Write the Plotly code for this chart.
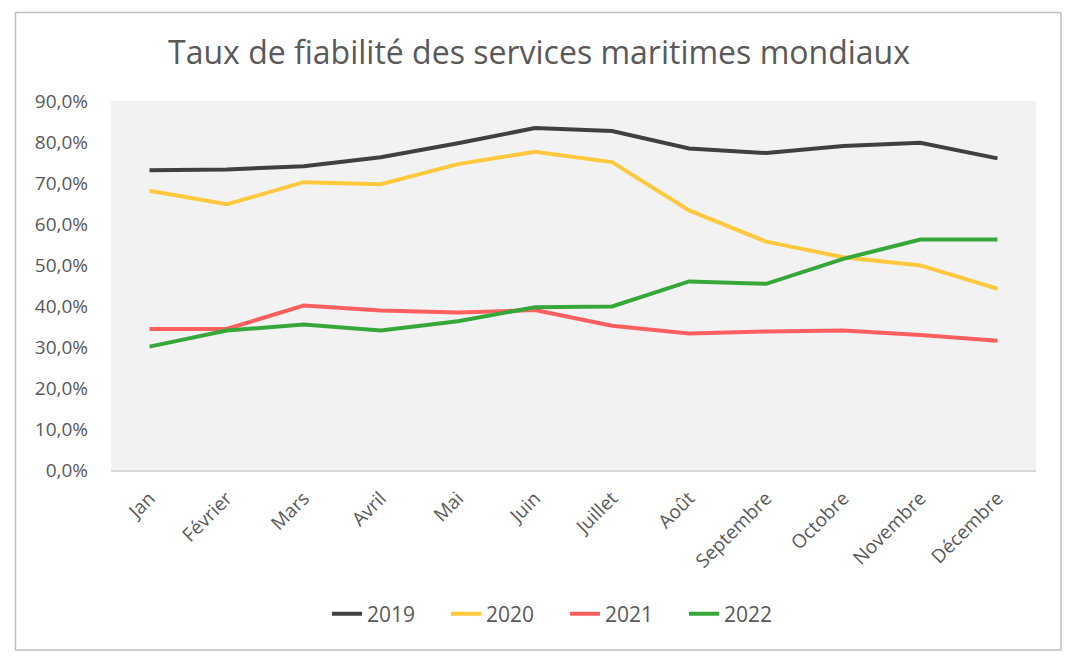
import plotly.graph_objects as go

months = ["Jan", "Février", "Mars", "Avril", "Mai", "Juin", "Juillet", "Août",
          "Septembre", "Octobre", "Novembre", "Décembre"]
v2019 = [73.1, 73.3, 74.1, 76.3, 79.7, 83.4, 82.7, 78.4, 77.3, 79.0, 79.8, 76.0]
v2020 = [68.1, 64.8, 70.2, 69.7, 74.6, 77.6, 75.1, 63.3, 55.7, 51.9, 49.9, 44.2]
v2021 = [34.4, 34.4, 40.1, 38.9, 38.4, 39.0, 35.2, 33.3, 33.8, 34.0, 32.9, 31.5]
v2022 = [30.1, 34.0, 35.5, 34.0, 36.3, 39.7, 39.9, 46.0, 45.4, 51.5, 56.2, 56.2]
series_names = ["2019", "2020", "2021", "2022"]
colors = ["#404040", "#FFC83D", "#FF5F5F", "#36A83A"]
y_ticks = [0, 10, 20, 30, 40, 50, 60, 70, 80, 90]
y_tick_labels = ["0,0%", "10,0%", "20,0%", "30,0%", "40,0%", "50,0%",
                 "60,0%", "70,0%", "80,0%", "90,0%"]
title_text = "Taux de fiabilité des services maritimes mondiaux"

fig = go.Figure()
for name, vals, col in zip(series_names, [v2019, v2020, v2021, v2022], colors):
    fig.add_trace(go.Scatter(x=months, y=vals, name=name, mode="lines",
                             line=dict(color=col, width=4)))

OFF = 8  # page body margin
W, H = 1080 - OFF, 666 - OFF
L, R, T, B = 111 - OFF, 1036 - OFF, 101 - OFF, 470 - OFF
pw, ph = R - L, B - T


def px_x(p):
    return (p - OFF - L) / pw


def px_y(p):
    return (B - (p - OFF)) / ph


fig.add_shape(type="rect", xref="paper", yref="paper",
              x0=px_x(15.5), x1=px_x(1061), y0=px_y(650), y1=px_y(12.5),
              line=dict(color="#bfbfbf", width=1.5), fillcolor="rgba(0,0,0,0)",
              layer="below")

fig.update_layout(
    width=W, height=H,
    margin=dict(l=L, r=W - R, t=T, b=H - B),
    paper_bgcolor="white",
    plot_bgcolor="#f2f2f2",
    font=dict(family="Open Sans", color="#595959", size=19),
    title=dict(text=title_text, x=(539 - OFF) / W, xanchor="center",
               y=1 - (53 - OFF) / H, yanchor="middle", yref="container",
               font=dict(size=32, color="#595959")),
    legend=dict(orientation="h", x=px_x(565), xanchor="center",
                y=px_y(614), yanchor="middle", font=dict(size=21),
                entrywidth=74, entrywidthmode="pixels",
                bgcolor="rgba(0,0,0,0)"),
    xaxis=dict(showgrid=False, showline=True, linecolor="#d9d9d9", linewidth=1.5,
               tickangle=-45, ticks="", ticklabelstandoff=8,
               range=[-0.5, 11.5], fixedrange=True),
    yaxis=dict(range=[0, 90], tickvals=y_ticks, ticktext=y_tick_labels,
               showgrid=False, zeroline=False, showline=False, ticks="",
               ticklabelstandoff=22),
)

fig.write_html("out.html")
